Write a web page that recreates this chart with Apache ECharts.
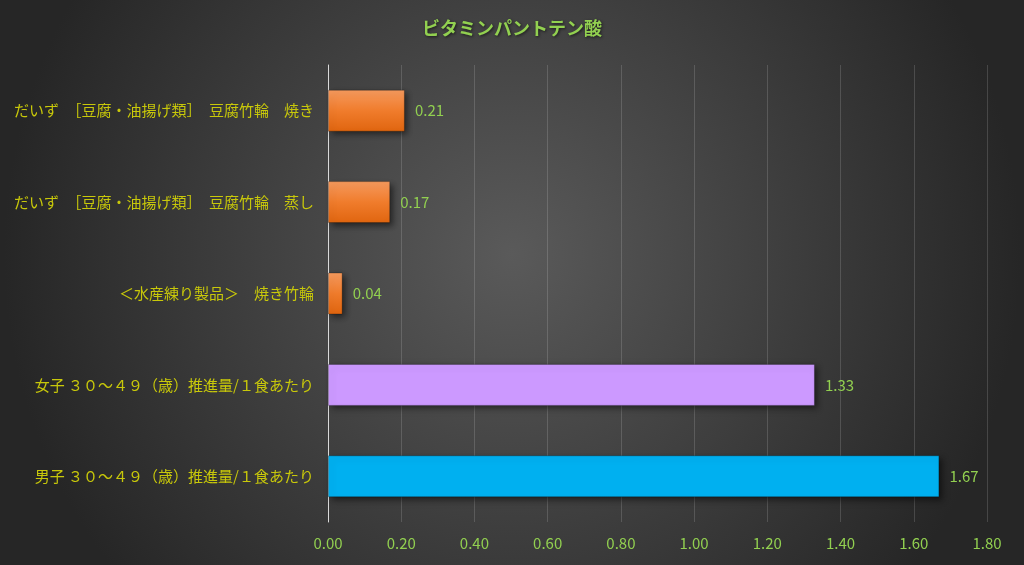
<!DOCTYPE html>
<html>
<head>
<meta charset="utf-8">
<script src="https://cdn.jsdelivr.net/npm/echarts@6/dist/echarts.min.js"></script>
<style>
html,body{margin:0;padding:0;background:#333;}
#main{width:1024px;height:565px;}
</style>
</head>
<body>
<div id="main"></div>
<script>
var categories = [
    '男子 ３０～４９（歳）推進量/１食あたり',
    '女子 ３０～４９（歳）推進量/１食あたり',
    '＜水産練り製品＞　焼き竹輪',
    'だいず　［豆腐・油揚げ類］　豆腐竹輪　蒸し',
    'だいず　［豆腐・油揚げ類］　豆腐竹輪　焼き'
];
var values = [1.67, 1.33, 0.04, 0.17, 0.21];
var barColors = ['#00b0f0', '#cc99ff', 'orange', 'orange', 'orange'];

var orangeGrad = {
    type: 'linear', x: 0, y: 0, x2: 0, y2: 1,
    colorStops: [{offset: 0, color: '#f59a5e'}, {offset: 0.5, color: '#f07c2c'}, {offset: 1, color: '#e0650f'}]
};

var chart = echarts.init(document.getElementById('main'));
var option = {
    backgroundColor: {
        type: 'radial', x: 0.5, y: 0.45, r: 0.9,
        colorStops: [{offset: 0, color: '#5a5a5a'}, {offset: 1, color: '#262626'}]
    },
    textStyle: {fontFamily: '"Noto Sans CJK JP", sans-serif'},
    title: {
        text: 'ビタミンパントテン酸',
        left: 507,
        textAlign: 'center',
        top: 14,
        textStyle: {
            color: '#92d050', fontSize: 18, fontWeight: 'bold',
            textShadowColor: 'rgba(0,0,0,0.6)', textShadowBlur: 3, textShadowOffsetX: 1, textShadowOffsetY: 1
        }
    },
    grid: {left: 328, right: 37, top: 65, bottom: 43},
    xAxis: {
        type: 'value',
        min: 0,
        max: 1.8,
        interval: 0.2,
        axisLine: {show: false},
        axisTick: {show: false},
        splitLine: {lineStyle: {color: 'rgba(255,255,255,0.15)'}},
        axisLabel: {
            color: '#92d050',
            fontSize: 15,
            margin: 14,
            formatter: function (v) { return v.toFixed(2); }
        }
    },
    yAxis: {
        type: 'category',
        data: categories,
        axisLine: {lineStyle: {color: '#d9d9d9', width: 1}},
        axisTick: {show: false},
        axisLabel: {color: '#c8c80a', fontSize: 15, margin: 14}
    },
    series: [{
        type: 'bar',
        barWidth: 42,
        data: values.map(function (v, i) {
            return {
                value: v,
                itemStyle: {color: barColors[i] === 'orange' ? orangeGrad : barColors[i]}
            };
        }),
        itemStyle: {
            borderColor: 'rgba(0,0,0,0.25)',
            borderWidth: 1,
            shadowColor: 'rgba(0,0,0,0.5)',
            shadowBlur: 6,
            shadowOffsetX: 3,
            shadowOffsetY: 3
        },
        label: {
            show: true,
            position: 'right',
            distance: 10,
            color: '#92d050',
            fontSize: 15,
            formatter: function (p) { return p.value.toFixed(2); }
        }
    }]
};
chart.setOption(option);
window.addEventListener('resize', chart.resize);
</script>
</body>
</html>
